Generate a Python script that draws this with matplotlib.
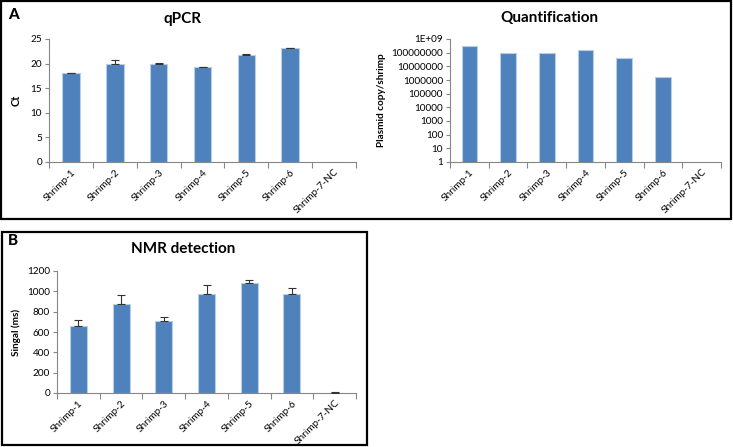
import matplotlib
matplotlib.use("Agg")
import matplotlib.pyplot as plt
from matplotlib.patches import Rectangle
from matplotlib.ticker import FixedLocator, FixedFormatter, NullFormatter
import numpy as np

categories = ["Shrimp-1", "Shrimp-2", "Shrimp-3", "Shrimp-4", "Shrimp-5", "Shrimp-6", "Shrimp-7-NC"]
qpcr_ct = [18.0, 20.0, 20.0, 19.3, 21.8, 23.1, 0]
qpcr_err = [0.1, 0.8, 0.1, 0.1, 0.1, 0.1, 0]
quant_copies = [3.2e8, 9.5e7, 9.8e7, 1.6e8, 4.2e7, 1.8e6, 0]
nmr_signal = [656, 874, 711, 969, 1086, 969, 4]
nmr_err = [58, 88, 33, 90, 26, 68, 4]

qpcr_ticks = [0, 5, 10, 15, 20, 25]
quant_ticks = [1, 10, 100, 1000, 10000, 100000, 1000000, 10000000, 100000000, 1000000000]
quant_ticklabels = ["1", "10", "100", "1000", "10000", "100000", "1000000", "10000000", "100000000", "1E+09"]
nmr_ticks = [0, 200, 400, 600, 800, 1000, 1200]

plt.rcParams['font.family'] = ['Lato', 'DejaVu Sans']

W, H = 733, 447
fig = plt.figure(figsize=(W/100, H/100), dpi=100)

BAR = "#4F81BD"
EDGE = "#B9CDE5"
AX = "#868686"

def px(x0, y0, x1, y1):
    return [x0/W, 1-y1/H, (x1-x0)/W, (y1-y0)/H]

def style(ax, n):
    for s in ["top", "right"]:
        ax.spines[s].set_visible(False)
    for s in ["left", "bottom"]:
        ax.spines[s].set_color(AX)
        ax.spines[s].set_linewidth(0.8)
    ax.set_xlim(-0.5, n - 0.5)
    ax.xaxis.set_major_locator(FixedLocator(np.arange(n + 1) - 0.5))
    ax.xaxis.set_major_formatter(NullFormatter())
    ax.xaxis.set_minor_locator(FixedLocator(np.arange(n)))
    ax.xaxis.set_minor_formatter(FixedFormatter(categories))
    ax.tick_params(axis="x", which="major", length=4, color=AX, width=0.8)
    ax.tick_params(axis="x", which="minor", length=0, labelsize=7.2, pad=4)
    for lab in ax.get_xticklabels(minor=True):
        lab.set_rotation(45)
        lab.set_ha("right")
        lab.set_va("top")
        lab.set_rotation_mode("anchor")
    ax.tick_params(axis="y", length=3, color=AX, width=0.8, labelsize=7.2, pad=2)

x = np.arange(len(categories))

# qPCR
ax1 = fig.add_axes(px(49, 39, 356, 162))
ax1.bar(x, qpcr_ct, width=0.4, color=BAR, edgecolor=EDGE, linewidth=0.8, zorder=2)
ax1.errorbar(x[:6], qpcr_ct[:6], yerr=[np.zeros(6), qpcr_err[:6]], fmt="none",
             ecolor="#333333", elinewidth=0.8, capsize=3, capthick=0.8, zorder=3)
ax1.set_ylim(0, 25)
ax1.set_yticks(qpcr_ticks)
ax1.set_ylabel("Ct", fontsize=8, fontweight="bold", labelpad=6)
style(ax1, len(categories))

# Quantification
ax2 = fig.add_axes(px(450, 39, 721, 162))
qv = np.array(quant_copies, dtype=float)
ax2.bar(x[:6], qv[:6], width=0.4, color=BAR, edgecolor=EDGE, linewidth=0.8, zorder=2)
ax2.set_yscale("log")
ax2.set_ylim(1, 1e9)
ax2.yaxis.set_major_locator(FixedLocator(quant_ticks))
ax2.yaxis.set_major_formatter(FixedFormatter(quant_ticklabels))
ax2.yaxis.set_minor_locator(FixedLocator([]))
ax2.set_ylabel("Plasmid copy/shrimp", fontsize=7.2, fontweight="bold", labelpad=4)
style(ax2, len(categories))

# NMR
ax3 = fig.add_axes(px(57, 271, 356, 393))
ax3.bar(x, nmr_signal, width=0.4, color=BAR, edgecolor=EDGE, linewidth=0.8, zorder=2)
ax3.errorbar(x, nmr_signal, yerr=[np.zeros(len(x)), nmr_err], fmt="none",
             ecolor="#333333", elinewidth=0.8, capsize=3, capthick=0.8, zorder=3)
ax3.set_ylim(0, 1200)
ax3.set_yticks(nmr_ticks)
ax3.set_ylabel("Singal (ms)", fontsize=7.2, fontweight="bold", labelpad=4)
style(ax3, len(categories))

# chart titles (centred over the whole chart area)
fig.text(183/W, 1-19/H, "qPCR", fontsize=11, fontweight="bold", ha="center", va="center")
fig.text(549/W, 1-18/H, "Quantification", fontsize=11, fontweight="bold", ha="center", va="center")
fig.text(183/W, 1-249/H, "NMR detection", fontsize=11, fontweight="bold", ha="center", va="center")

# panel borders
fig.patches.append(Rectangle((1/W, 1-219/H), 730/W, 218/H, transform=fig.transFigure,
                             fill=False, edgecolor="black", linewidth=1.6))
fig.patches.append(Rectangle((2/W, 1-445/H), 365/W, 213/H, transform=fig.transFigure,
                             fill=False, edgecolor="black", linewidth=1.6))
fig.text(8/W, 1-15/H, "A", fontsize=11, fontweight="black", va="center", ha="left")
fig.text(8/W, 1-241/H, "B", fontsize=11, fontweight="black", va="center", ha="left")

fig.savefig("out.png", dpi=100)
